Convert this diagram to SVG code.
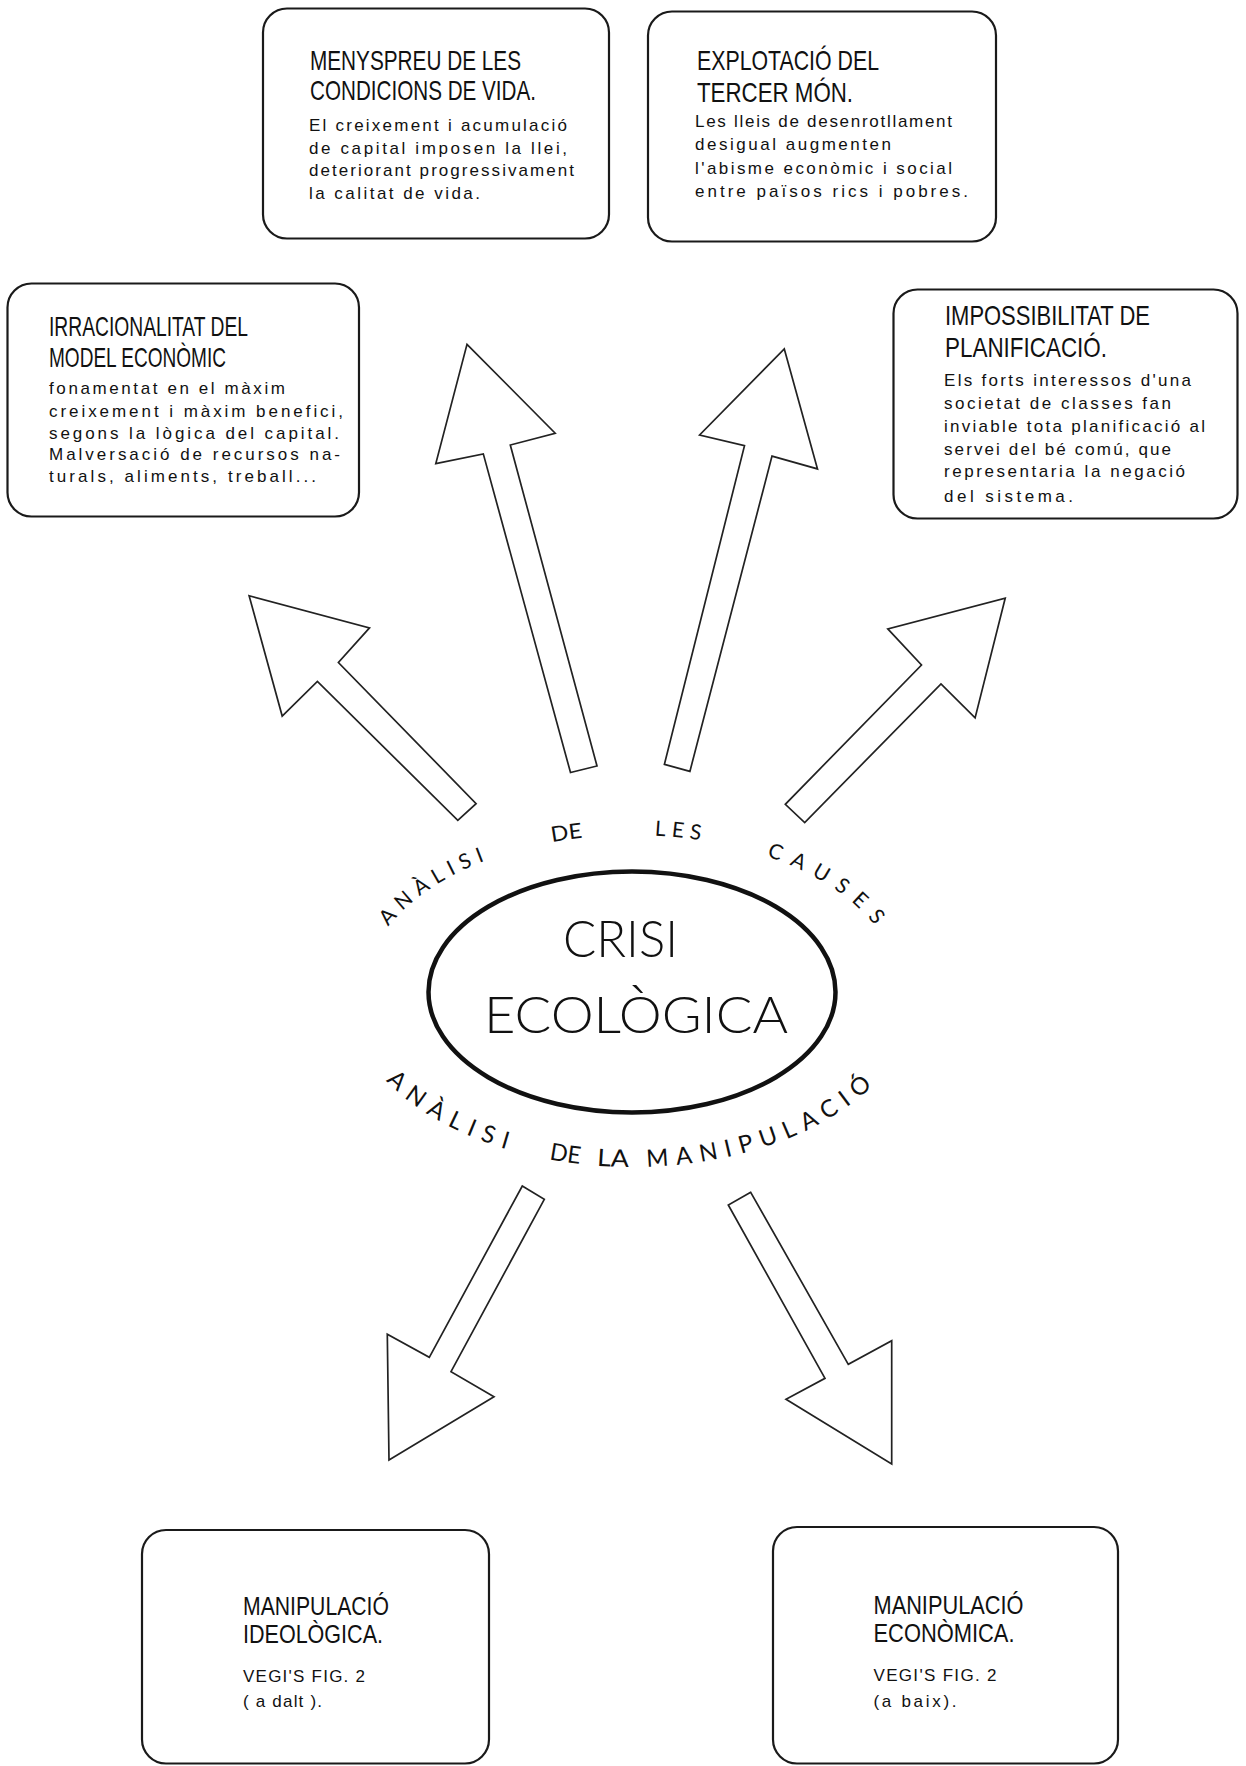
<svg xmlns="http://www.w3.org/2000/svg" width="1246" height="1766" viewBox="0 0 1246 1766">
<style>
.box{fill:#fff;stroke:#1a1a1a;stroke-width:2.2}
.arr{fill:#fff;stroke:#222;stroke-width:1.7;stroke-linejoin:miter}
.hd{font-family:'Liberation Sans',Arial,sans-serif;font-size:28px;fill:#111}
.hd2{font-family:'Liberation Sans',Arial,sans-serif;font-size:26px;fill:#111}
.bd{font-family:'Liberation Sans',Arial,sans-serif;font-size:17px;fill:#111}
.big{font-family:Lato,'Open Sans','Liberation Sans',sans-serif;font-weight:300;font-size:52px;fill:#111}
.arc1{font-family:Lato,'Open Sans','Liberation Sans',sans-serif;font-size:21px;fill:#111}
.arc2{font-family:Lato,'Open Sans','Liberation Sans',sans-serif;font-size:24px;fill:#111}
</style>
<defs>
<path id="topArc" d="M364,992 A268,157 0 0 1 900,992"/>
<path id="botArc" d="M347,992 A285,175 0 0 0 917,992"/>
</defs>

<g id="connectors">
<polygon class="arr" points="249.1,595.7 369.5,627.9 338.4,662.5 476.1,803.6 457.8,820.4 317.4,681.4 282.2,716.1"/>
<polygon class="arr" points="467,344.3 555.2,433.2 510.3,445 597,766 570.5,772.5 483.3,453.9 435.8,463.6"/>
<polygon class="arr" points="784.3,348.9 817.5,468.9 772,456.1 689.9,771.4 664.4,764.3 744.5,445.7 699.6,435"/>
<polygon class="arr" points="1005.2,598.2 975.1,717.9 941,683.9 804.7,822.5 785.3,804.3 921.5,665 887.8,628.9"/>
<polygon class="arr" points="522.3,1186 544.3,1199.3 451,1371.7 494,1396.7 389,1460 387.3,1334.3 429.3,1357.3"/>
<polygon class="arr" points="750.7,1192.3 728.3,1205 825,1378.3 786,1399.3 891.7,1464 891.7,1340.7 848.3,1364.3"/>
</g>

<g id="node-menyspreu">
<rect class="box" x="263" y="8.5" width="346" height="230" rx="24"/>
<text class="hd" x="310" y="70" textLength="211" lengthAdjust="spacingAndGlyphs">MENYSPREU  DE LES</text>
<text class="hd" x="310" y="100" textLength="226" lengthAdjust="spacingAndGlyphs">CONDICIONS DE VIDA.</text>
<text class="bd" x="309" y="131" textLength="258" lengthAdjust="spacing">El creixement i acumulació</text>
<text class="bd" x="309" y="153.5" textLength="258" lengthAdjust="spacing">de capital imposen la llei,</text>
<text class="bd" x="309" y="176" textLength="265" lengthAdjust="spacing">deteriorant  progressivament</text>
<text class="bd" x="309" y="198.5" textLength="171" lengthAdjust="spacing">la calitat de vida.</text>
</g>

<g id="node-explotacio">
<rect class="box" x="648" y="11.5" width="348" height="230" rx="24"/>
<text class="hd" x="697" y="70" textLength="182" lengthAdjust="spacingAndGlyphs">EXPLOTACIÓ  DEL</text>
<text class="hd" x="697" y="101.5" textLength="156" lengthAdjust="spacingAndGlyphs">TERCER MÓN.</text>
<text class="bd" x="695" y="127" textLength="257" lengthAdjust="spacing">Les lleis de desenrotllament</text>
<text class="bd" x="695" y="150" textLength="196" lengthAdjust="spacing">desigual augmenten</text>
<text class="bd" x="695" y="173.5" textLength="257" lengthAdjust="spacing">l'abisme  econòmic i social</text>
<text class="bd" x="695" y="197" textLength="273" lengthAdjust="spacing">entre països rics i pobres.</text>
</g>

<g id="node-irracionalitat">
<rect class="box" x="7.5" y="283.5" width="351.5" height="233" rx="24"/>
<text class="hd" x="49" y="336" textLength="199" lengthAdjust="spacingAndGlyphs">IRRACIONALITAT DEL</text>
<text class="hd" x="49" y="367" textLength="177" lengthAdjust="spacingAndGlyphs">MODEL ECONÒMIC</text>
<text class="bd" x="49" y="394" textLength="236" lengthAdjust="spacing">fonamentat en el màxim</text>
<text class="bd" x="49" y="416.5" textLength="294" lengthAdjust="spacing">creixement  i  màxim benefici,</text>
<text class="bd" x="49" y="438.5" textLength="290" lengthAdjust="spacing">segons la lògica del capital.</text>
<text class="bd" x="49" y="460" textLength="291" lengthAdjust="spacing">Malversació  de recursos na-</text>
<text class="bd" x="49" y="482" textLength="267" lengthAdjust="spacing">turals, aliments, treball...</text>
</g>

<g id="node-impossibilitat">
<rect class="box" x="893.5" y="289.5" width="344" height="229" rx="24"/>
<text class="hd" x="945" y="325" textLength="205" lengthAdjust="spacingAndGlyphs">IMPOSSIBILITAT  DE</text>
<text class="hd" x="945" y="357" textLength="162" lengthAdjust="spacingAndGlyphs">PLANIFICACIÓ.</text>
<text class="bd" x="944" y="386" textLength="247" lengthAdjust="spacing">Els forts interessos d'una</text>
<text class="bd" x="944" y="408.5" textLength="227" lengthAdjust="spacing">societat de classes  fan</text>
<text class="bd" x="944" y="432" textLength="261" lengthAdjust="spacing">inviable tota planificació al</text>
<text class="bd" x="944" y="455" textLength="227" lengthAdjust="spacing">servei del bé comú, que</text>
<text class="bd" x="944" y="477" textLength="241" lengthAdjust="spacing">representaria  la negació</text>
<text class="bd" x="944" y="502" textLength="129" lengthAdjust="spacing">del  sistema.</text>
</g>

<g id="node-crisi">
<ellipse cx="632" cy="992" rx="203.5" ry="120.5" fill="#fff" stroke="#111" stroke-width="4.5"/>
<text class="big" x="563" y="957" textLength="115" lengthAdjust="spacingAndGlyphs">CRISI</text>
<text class="big" x="484" y="1033" textLength="304" lengthAdjust="spacingAndGlyphs">ECOLÒGICA</text>
</g>

<g id="label-causes">
<text class="arc1"><textPath href="#topArc" startOffset="71" textLength="126" lengthAdjust="spacing" letter-spacing="8">ANÀLISI</textPath></text>
<text class="arc1"><textPath href="#topArc" startOffset="259" textLength="31" lengthAdjust="spacingAndGlyphs">DE</textPath></text>
<text class="arc1"><textPath href="#topArc" startOffset="362" textLength="54" lengthAdjust="spacing" letter-spacing="8">LES</textPath></text>
<text class="arc1"><textPath href="#topArc" startOffset="476" textLength="140" lengthAdjust="spacing" letter-spacing="10">CAUSES</textPath></text>
</g>

<g id="label-manipulacio">
<text class="arc2"><textPath href="#botArc" startOffset="99" textLength="150" lengthAdjust="spacing" letter-spacing="10">ANÀLISI</textPath></text>
<text class="arc2"><textPath href="#botArc" startOffset="283" textLength="31" lengthAdjust="spacingAndGlyphs">DE</textPath></text>
<text class="arc2"><textPath href="#botArc" startOffset="331" textLength="32" lengthAdjust="spacingAndGlyphs">LA</textPath></text>
<text class="arc2"><textPath href="#botArc" startOffset="381" textLength="252" lengthAdjust="spacing" letter-spacing="7">MANIPULACIÓ</textPath></text>
</g>

<g id="node-ideologica">
<rect class="box" x="142" y="1530" width="347" height="233.5" rx="24"/>
<text class="hd2" x="243" y="1615" textLength="146" lengthAdjust="spacingAndGlyphs">MANIPULACIÓ</text>
<text class="hd2" x="243" y="1643" textLength="140" lengthAdjust="spacingAndGlyphs">IDEOLÒGICA.</text>
<text class="bd" x="243" y="1682" textLength="122" lengthAdjust="spacing">VEGI'S  FIG. 2</text>
<text class="bd" x="243" y="1707" textLength="79" lengthAdjust="spacing">( a dalt ).</text>
</g>

<g id="node-economica">
<rect class="box" x="773" y="1527" width="345" height="236.5" rx="24"/>
<text class="hd2" x="873.5" y="1614" textLength="150" lengthAdjust="spacingAndGlyphs">MANIPULACIÓ</text>
<text class="hd2" x="873.5" y="1642" textLength="141" lengthAdjust="spacingAndGlyphs">ECONÒMICA.</text>
<text class="bd" x="873.5" y="1681" textLength="123" lengthAdjust="spacing">VEGI'S  FIG. 2</text>
<text class="bd" x="873.5" y="1707" textLength="83" lengthAdjust="spacing">(a baix).</text>
</g>
</svg>
